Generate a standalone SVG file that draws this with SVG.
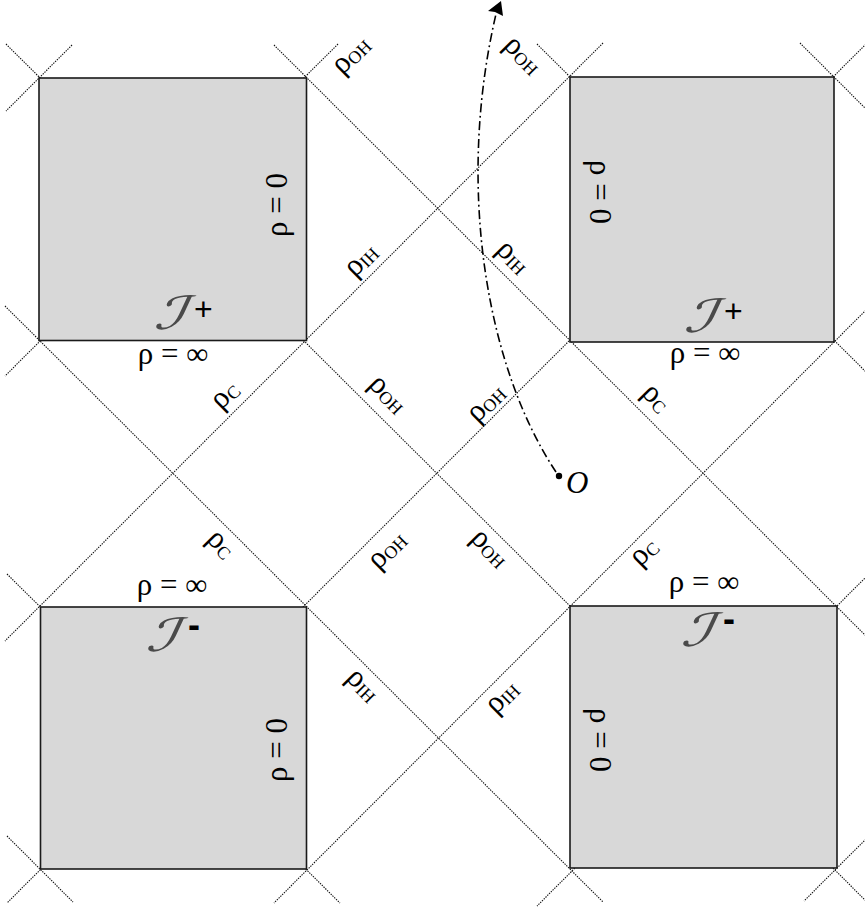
<svg xmlns="http://www.w3.org/2000/svg" width="865" height="909" viewBox="0 0 865 909">
<style>
.dot{stroke:#111;stroke-width:1.1;stroke-dasharray:1.4 1.1;fill:none}
.sq{fill:#d8d8d8;stroke:#1a1a1a;stroke-width:1.6}
.t{font-family:"Liberation Serif","Times New Roman",serif;font-size:31px;fill:#000}
.sub{font-size:18px}
.scr{font-family:"DejaVu Serif","DejaVu Sans",serif;font-size:36px;fill:#4a4a4a}
.sg{font-family:"Liberation Sans",Arial,sans-serif;fill:#000}
</style>
<rect width="865" height="909" fill="#fff"/>
<g id="connectors">
  <line class="dot" x1="6" y1="44" x2="868" y2="903"/>
  <line class="dot" x1="5" y1="306" x2="603" y2="902"/>
  <line class="dot" x1="274" y1="45" x2="866" y2="636"/>
  <line class="dot" x1="537" y1="44" x2="866" y2="372"/>
  <line class="dot" x1="7" y1="574" x2="340" y2="903"/>
  <line class="dot" x1="800" y1="43" x2="866" y2="109"/>
  <line class="dot" x1="7" y1="836" x2="73" y2="902"/>
  <line class="dot" x1="338" y1="44" x2="5" y2="376"/>
  <line class="dot" x1="603" y1="43" x2="5" y2="641"/>
  <line class="dot" x1="866" y1="44" x2="7" y2="903"/>
  <line class="dot" x1="866" y1="310" x2="274" y2="903"/>
  <line class="dot" x1="870" y1="573" x2="537" y2="906"/>
  <line class="dot" x1="72" y1="45" x2="6" y2="111"/>
  <line class="dot" x1="866" y1="839" x2="804" y2="901"/>
  <path d="M556,472 C488,370 455,190 496,14" fill="none" stroke="#000" stroke-width="1.6" stroke-dasharray="9 3.5 1.8 3.5"/>
  <polygon points="501,1 488,11 495,12 503,16" fill="#000"/>
</g>
<g id="sq-tl">
  <rect class="sq" x="39" y="78" width="267.5" height="262.5"/>
  <text class="t" text-anchor="middle" transform="translate(287,205) rotate(-90)">ρ = 0</text>
  <text class="scr" transform="translate(153,329) skewX(-25) scale(1.8,1.27)">ℐ</text>
  <text class="sg" x="194" y="320" font-size="32">+</text>
  <text class="t" x="173" y="364" text-anchor="middle">ρ = ∞</text>
</g>
<g id="sq-tr">
  <rect class="sq" x="570" y="77" width="264" height="265"/>
  <text class="t" text-anchor="middle" transform="translate(590,192) rotate(90)">ρ = 0</text>
  <text class="scr" transform="translate(683,332) skewX(-25) scale(1.8,1.27)">ℐ</text>
  <text class="sg" x="724" y="322" font-size="32">+</text>
  <text class="t" x="705" y="363" text-anchor="middle">ρ = ∞</text>
</g>
<g id="sq-bl">
  <rect class="sq" x="40.5" y="607" width="266" height="262"/>
  <text class="t" text-anchor="middle" transform="translate(287,750) rotate(-90)">ρ = 0</text>
  <text class="scr" transform="translate(145,651) skewX(-25) scale(1.8,1.27)">ℐ</text>
  <text class="sg" x="188" y="637" font-size="36" font-weight="bold">-</text>
  <text class="t" x="172" y="595" text-anchor="middle">ρ = ∞</text>
</g>
<g id="sq-br">
  <rect class="sq" x="570" y="606" width="267" height="262"/>
  <text class="t" text-anchor="middle" transform="translate(590,740) rotate(90)">ρ = 0</text>
  <text class="scr" transform="translate(680,646) skewX(-25) scale(1.8,1.27)">ℐ</text>
  <text class="sg" x="723" y="631" font-size="36" font-weight="bold">-</text>
  <text class="t" x="704" y="592" text-anchor="middle">ρ = ∞</text>
</g>
<g id="labels">
  <text class="t" text-anchor="middle" y="4" transform="translate(354,58) rotate(-45)">ρ<tspan class="sub" dy="2">OH</tspan></text>
  <text class="t" text-anchor="middle" y="4" transform="translate(520,58) rotate(45)">ρ<tspan class="sub" dy="2">OH</tspan></text>
  <text class="t" text-anchor="middle" y="4" transform="translate(364,263) rotate(-45)">ρ<tspan class="sub" dy="2">IH</tspan></text>
  <text class="t" text-anchor="middle" y="4" transform="translate(510,260) rotate(45)">ρ<tspan class="sub" dy="2">IH</tspan></text>
  <text class="t" text-anchor="middle" y="4" transform="translate(228,398) rotate(-45)">ρ<tspan class="sub" dy="2">C</tspan></text>
  <text class="t" text-anchor="middle" y="4" transform="translate(385,397) rotate(45)">ρ<tspan class="sub" dy="2">OH</tspan></text>
  <text class="t" text-anchor="middle" y="4" transform="translate(489,406) rotate(-45)">ρ<tspan class="sub" dy="2">OH</tspan></text>
  <text class="t" text-anchor="middle" y="4" transform="translate(653,401) rotate(45)">ρ<tspan class="sub" dy="2">C</tspan></text>
  <text class="t" text-anchor="middle" y="4" transform="translate(218,547) rotate(45)">ρ<tspan class="sub" dy="2">C</tspan></text>
  <text class="t" text-anchor="middle" y="4" transform="translate(390,553) rotate(-45)">ρ<tspan class="sub" dy="2">OH</tspan></text>
  <text class="t" text-anchor="middle" y="4" transform="translate(487,551) rotate(45)">ρ<tspan class="sub" dy="2">OH</tspan></text>
  <text class="t" text-anchor="middle" y="4" transform="translate(647,555) rotate(-45)">ρ<tspan class="sub" dy="2">C</tspan></text>
  <text class="t" text-anchor="middle" y="4" transform="translate(360,688) rotate(45)">ρ<tspan class="sub" dy="2">IH</tspan></text>
  <text class="t" text-anchor="middle" y="4" transform="translate(505,700) rotate(-45)">ρ<tspan class="sub" dy="2">IH</tspan></text>
</g>
<g id="point-o">
  <circle cx="559" cy="476" r="3.2" fill="#000"/>
  <text class="t" x="566" y="493" font-style="italic" font-size="29">O</text>
</g>
</svg>
